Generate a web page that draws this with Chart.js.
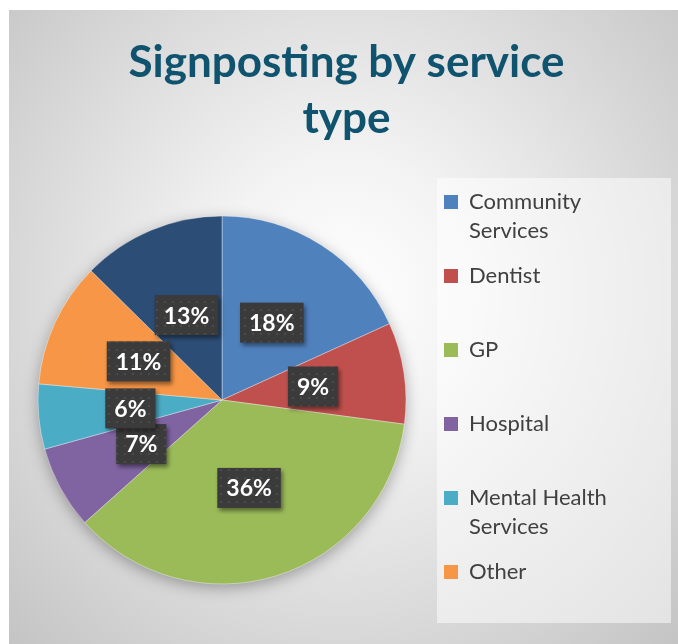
<!DOCTYPE html>
<html><head><meta charset="utf-8">
<script src="https://cdn.jsdelivr.net/npm/chart.js@4.4.1/dist/chart.umd.min.js"></script>
<style>
html,body{margin:0;padding:0;background:#fff;width:678px;height:644px;overflow:hidden;}
#frame{position:absolute;left:9px;top:10px;width:669px;height:634px;
background:radial-gradient(ellipse farthest-corner at 50% 45%, #ffffff 0%, #f3f3f3 28%, #c4c4c4 100%);}
canvas{display:block}
</style></head><body>
<div id="frame"><canvas id="c" width="669" height="634"></canvas></div>
<script>
// ---- data ----
const categories = ['Community Services', 'Dentist', 'GP', 'Hospital', 'Mental Health Services', 'Other', 'Unlabelled'];
const shares = [18.2, 8.9, 36.3, 7.3, 5.7, 11.0, 12.6];
const sliceColors = ['#4F81BD', '#C0504D', '#9BBB59', '#8064A2', '#4BACC6', '#F79646', '#2C4D75'];
const legendCount = 6;
const titleLines = ['Signposting by service', 'type'];

// ---- styles ----
const FONT = 'Lato';
const LEGEND_W = 249;
const total = shares.reduce((a, b) => a + b, 0);

function wrap(t, max) {
  if (t.length <= max) return [t];
  const words = t.split(' ');
  const lines = [];
  let cur = '';
  words.forEach(w => {
    const next = cur ? cur + ' ' + w : w;
    if (next.length > max && cur) { lines.push(cur); cur = w; } else cur = next;
  });
  if (cur) lines.push(cur);
  return lines;
}

// dotted pattern for label boxes
const pc = document.createElement('canvas');
pc.width = 8; pc.height = 8;
const pctx = pc.getContext('2d');
pctx.fillStyle = '#3b3b3b'; pctx.fillRect(0, 0, 8, 8);
pctx.fillStyle = '#4b4b4b'; pctx.fillRect(3, 3, 2, 2);

const legendWidthPlugin = {
  id: 'legendWidth',
  beforeLayout(chart) {
    const lg = chart.legend;
    if (lg && !lg._wPatched) {
      const f = lg.fit;
      lg.fit = function () { f.call(this); this.width = LEGEND_W; };
      lg._wPatched = true;
    }
  }
};

const panelPlugin = {
  id: 'panel',
  beforeDraw(chart) {
    const lg = chart.legend;
    const ctx = chart.ctx;
    ctx.save();
    ctx.fillStyle = 'rgba(255,255,255,0.5)';
    ctx.fillRect(lg.left + 9, lg.top + 3, lg.right - 6 - (lg.left + 9), lg.bottom - 2 - (lg.top + 3));
    ctx.restore();
  }
};

const pieShadowPlugin = {
  id: 'pieShadow',
  beforeDatasetsDraw(chart) {
    const arc = chart.getDatasetMeta(0).data[0];
    if (!arc) return;
    const ctx = chart.ctx;
    ctx.save();
    ctx.shadowColor = 'rgba(0,0,0,0.35)';
    ctx.shadowBlur = 16;
    ctx.shadowOffsetY = 4;
    ctx.beginPath();
    ctx.arc(arc.x, arc.y, arc.outerRadius - 1, 0, Math.PI * 2);
    ctx.fillStyle = '#999';
    ctx.fill();
    ctx.restore();
  }
};

const labelPlugin = {
  id: 'pctLabels',
  afterDatasetsDraw(chart) {
    const ctx = chart.ctx;
    const meta = chart.getDatasetMeta(0);
    const pattern = ctx.createPattern(pc, 'repeat');
    meta.data.forEach((arc, i) => {
      const p = arc.tooltipPosition();
      const txt = Math.round(shares[i] / total * 100) + '%';
      ctx.save();
      ctx.font = 'bold 23px ' + FONT;
      const tw = ctx.measureText(txt).width;
      const w = tw + 18, h = 40;
      ctx.shadowColor = 'rgba(0,0,0,0.45)';
      ctx.shadowBlur = 4;
      ctx.shadowOffsetX = 2;
      ctx.shadowOffsetY = 3;
      ctx.fillStyle = pattern;
      ctx.fillRect(p.x - w / 2, p.y - h / 2, w, h);
      ctx.shadowColor = 'transparent';
      ctx.fillStyle = '#ffffff';
      ctx.textAlign = 'center';
      ctx.textBaseline = 'middle';
      ctx.fillText(txt, p.x, p.y + 1);
      ctx.restore();
    });
  }
};

new Chart(document.getElementById('c'), {
  type: 'pie',
  data: {
    labels: categories,
    datasets: [{
      data: shares,
      backgroundColor: sliceColors,
      borderColor: 'rgba(255,255,255,0.5)',
      borderWidth: 0.75,
      radius: 184
    }]
  },
  options: {
    responsive: false,
    animation: false,
    devicePixelRatio: 1,
    layout: { padding: { left: 7, right: 1, top: 0, bottom: 19 } },
    plugins: {
      tooltip: { enabled: false },
      title: {
        display: true,
        text: titleLines,
        color: '#10536f',
        font: { family: FONT, weight: 'bold', size: 44, lineHeight: 56 / 44 },
        padding: { top: 25, bottom: 28 }
      },
      legend: {
        position: 'right',
        align: 'start',
        fullSize: false,
        labels: {
          boxWidth: 14,
          boxHeight: 14,
          padding: 16,
          color: '#404040',
          font: { family: FONT, size: 22, lineHeight: 29 / 22 },
          generateLabels(chart) {
            const items = Chart.DoughnutController.overrides.plugins.legend.labels.generateLabels(chart);
            const vis = items.filter(it => it.index < legendCount);
            return vis.map((it, k) => {
              const lines = wrap(String(it.text), 13);
              if (k === vis.length - 1 && lines.length === 1) it.text = lines[0];
              else it.text = lines.length === 1 ? [lines[0], ''] : lines;
              it.lineWidth = 0;
              it.strokeStyle = 'rgba(0,0,0,0)';
              it.fontColor = '#404040';
              return it;
            });
          }
        }
      }
    }
  },
  plugins: [legendWidthPlugin, panelPlugin, pieShadowPlugin, labelPlugin]
});
</script>
</body></html>
